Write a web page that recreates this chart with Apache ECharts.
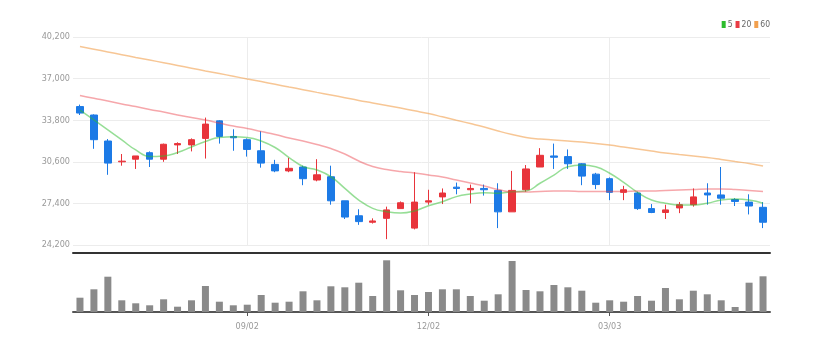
<!DOCTYPE html>
<html>
<head>
<meta charset="utf-8">
<script src="https://cdn.jsdelivr.net/npm/echarts@6/dist/echarts.min.js"></script>
<style>
  html, body { margin: 0; padding: 0; background: #ffffff; }
  #chart { width: 822px; height: 350px; }
</style>
</head>
<body>
<div id="chart"></div>
<script>
// Weekly sessions (Mondays)
const weeks = [
  '06/10','06/17','06/24','07/01','07/08','07/15','07/22','07/29','08/05','08/12',
  '08/19','08/26','09/02','09/09','09/16','09/23','09/30','10/07','10/14','10/21',
  '10/28','11/04','11/11','11/18','11/25','12/02','12/09','12/16','12/23','12/30',
  '01/06','01/13','01/20','01/27','02/03','02/10','02/17','02/24','03/03','03/10',
  '03/17','03/24','03/31','04/07','04/14','04/21','04/28','05/05','05/12','05/19'
];

// [open, close, low, high]
const ohlc = [
  [34850, 34350, 34200, 35000], [34200, 32300, 31600, 34250], [32200, 30500, 29600, 32350],
  [30600, 30650, 30300, 31200], [30800, 31050, 30050, 31050], [31300, 30800, 30200, 31400],
  [30800, 31950, 30600, 32000], [31900, 32000, 31200, 32100], [31900, 32300, 31400, 32400],
  [32400, 33500, 30850, 34000], [33750, 32550, 32000, 33800], [32550, 32450, 31450, 33100],
  [32300, 31550, 31000, 32400], [31450, 30500, 30150, 32950], [30400, 29900, 29800, 30750],
  [29900, 30100, 29800, 30900], [30200, 29300, 28800, 30300], [29200, 29600, 29100, 30800],
  [29450, 27600, 27300, 30300], [27600, 26350, 26200, 27600], [26450, 26000, 25750, 26950],
  [25950, 26050, 25850, 26250], [26250, 26900, 24650, 27150], [27000, 27450, 27000, 27550],
  [25500, 27500, 25400, 29800], [27500, 27600, 27300, 28450], [27900, 28200, 27350, 28550],
  [28650, 28550, 28100, 29000], [28450, 28550, 27400, 28850], [28550, 28450, 28000, 28850],
  [28400, 26750, 25500, 28950], [26750, 28400, 26750, 29900], [28450, 30050, 28300, 30350],
  [30200, 31100, 30200, 31650], [31050, 30950, 30050, 32000], [31000, 30450, 30050, 31550],
  [30450, 29500, 28800, 30500], [29650, 28850, 28500, 29750], [29300, 28250, 27650, 29400],
  [28250, 28450, 27650, 28750], [28200, 27000, 26900, 28300], [27000, 26700, 26650, 27350],
  [26700, 26900, 26200, 27300], [27050, 27300, 26650, 27500], [27300, 27900, 27150, 28550],
  [28200, 28050, 27300, 28950], [28050, 27800, 27300, 30200], [27700, 27550, 27200, 27800],
  [27500, 27200, 26550, 28100], [27100, 25950, 25500, 27500]
];

// Shares traded (thousands)
const volume = [
  143, 227, 353, 117, 87, 67, 127, 53, 117, 260,
  103, 67, 73, 170, 93, 103, 207, 117, 257, 247,
  293, 160, 517, 217, 170, 200, 227, 227, 160, 113,
  177, 510, 220, 207, 270, 247, 213, 93, 117, 103,
  160, 113, 240, 127, 213, 177, 117, 50, 293, 357
];

// Moving averages (5 / 20 / 60 weeks)
const ma5 = [
  34580, 33820, 33050, 32280, 31510, 31010, 31050, 31320, 31740, 32160,
  32470, 32530, 32470, 32200, 31700, 30930, 30240, 29970, 29450, 28560,
  27660, 27020, 26760, 26660, 26820, 27220, 27530, 27920, 28120, 28220,
  28180, 28300, 28350, 28950, 29580, 30220, 30350, 30220, 29720, 29020,
  28250, 27660, 27410, 27280, 27280, 27410, 27660, 27740, 27660, 27410
];
const ma20 = [
  35700, 35480, 35280, 35050, 34850, 34620, 34430, 34200, 34010, 33820,
  33580, 33350, 33160, 32930, 32700, 32430, 32200, 31930, 31620, 31200,
  30660, 30240, 30010, 29850, 29740, 29580, 29430, 29200, 28970, 28740,
  28470, 28280, 28280, 28320, 28350, 28350, 28320, 28320, 28320, 28320,
  28350, 28350, 28390, 28430, 28470, 28510, 28510, 28470, 28390, 28320
];
const ma60 = [
  39470, 39260, 39050, 38840, 38630, 38430, 38220, 38010, 37800, 37590,
  37390, 37180, 36970, 36770, 36560, 36350, 36150, 35940, 35740, 35530,
  35320, 35130, 34930, 34730, 34520, 34310, 34060, 33800, 33540, 33270,
  32970, 32700, 32470, 32350, 32280, 32200, 32120, 32010, 31890, 31740,
  31590, 31430, 31280, 31160, 31050, 30930, 30780, 30620, 30470, 30280
];

const priceMin = 24200;
const priceMax = 40200;
const priceStep = 3200;

const UP = '#e8343b';
const DOWN = '#1c7ae6';
const FONT = '"Liberation Sans Narrow", "DejaVu Sans Condensed", "Liberation Sans", sans-serif';
const labelEvery = (i) => i % 13 === 12;

const chart = echarts.init(document.getElementById('chart'), null, { renderer: 'canvas' });

chart.setOption({
  animation: false,
  backgroundColor: '#ffffff',
  textStyle: { fontFamily: FONT },
  legend: {
    data: ['5', '20', '60'],
    top: 20,
    right: 52,
    padding: 0,
    itemWidth: 4,
    itemHeight: 7,
    itemGap: 3,
    icon: 'rect',
    itemStyle: { opacity: 1 },
    textStyle: { fontSize: 8.5, color: '#666', fontFamily: FONT, padding: [0, 0, 0, -3] }
  },
  grid: [
    { left: 73, right: 52, top: 37, height: 208, outerBoundsMode: 'none', containLabel: false },
    { left: 73, right: 52, top: 253, height: 59, outerBoundsMode: 'none', containLabel: false }
  ],
  xAxis: [
    {
      type: 'category', gridIndex: 0, data: weeks, boundaryGap: true,
      axisLine: { show: false }, axisTick: { show: false }, axisLabel: { show: false },
      splitLine: { show: true, interval: labelEvery, alignWithLabel: true,
        lineStyle: { color: '#ececec', width: 1 } }
    },
    {
      type: 'category', gridIndex: 1, data: weeks, boundaryGap: true, position: 'bottom',
      axisLine: { show: true, lineStyle: { color: '#555', width: 2 } },
      axisTick: { show: true, interval: labelEvery, alignWithLabel: true, length: 4,
        lineStyle: { color: '#555' } },
      axisLabel: { show: true, interval: labelEvery, color: '#999', fontSize: 9,
        fontFamily: FONT, margin: 10 },
      splitLine: { show: false }
    },
    {
      type: 'category', gridIndex: 1, data: weeks, boundaryGap: true, position: 'top',
      axisLine: { show: true, lineStyle: { color: '#333', width: 2 } },
      axisTick: { show: false }, axisLabel: { show: false }, splitLine: { show: false }
    }
  ],
  yAxis: [
    {
      type: 'value', gridIndex: 0, min: priceMin, max: priceMax, interval: priceStep,
      axisLine: { show: false }, axisTick: { show: false },
      axisLabel: { color: '#999', fontSize: 9, fontFamily: FONT, margin: 3,
        formatter: (v) => v.toLocaleString('en-US') },
      splitLine: { show: true, lineStyle: { color: '#ececec', width: 1 } }
    },
    {
      type: 'value', gridIndex: 1, min: 0, max: 590,
      axisLine: { show: false }, axisTick: { show: false }, axisLabel: { show: false },
      splitLine: { show: false }
    }
  ],
  series: [
    {
      name: 'price', type: 'candlestick', xAxisIndex: 0, yAxisIndex: 0,
      data: ohlc, barWidth: 7,
      itemStyle: { color: UP, color0: DOWN, borderColor: UP, borderColor0: DOWN, borderWidth: 1 }
    },
    {
      name: '5', type: 'line', xAxisIndex: 0, yAxisIndex: 0, data: ma5,
      smooth: true, showSymbol: false, symbol: 'none', silent: true,
      itemStyle: { color: '#2dbd2d' },
      lineStyle: { color: '#2dbd2d', width: 1.5, opacity: 0.5 }
    },
    {
      name: '20', type: 'line', xAxisIndex: 0, yAxisIndex: 0, data: ma20,
      smooth: true, showSymbol: false, symbol: 'none', silent: true,
      itemStyle: { color: '#ea3c44' },
      lineStyle: { color: '#ea3c44', width: 1.5, opacity: 0.45 }
    },
    {
      name: '60', type: 'line', xAxisIndex: 0, yAxisIndex: 0, data: ma60,
      smooth: true, showSymbol: false, symbol: 'none', silent: true,
      itemStyle: { color: '#f2a04e' },
      lineStyle: { color: '#f2a04e', width: 1.5, opacity: 0.6 }
    },
    {
      name: 'volume', type: 'bar', xAxisIndex: 1, yAxisIndex: 1, data: volume,
      barWidth: 7, itemStyle: { color: '#8a8a8a' }
    }
  ]
});
</script>
</body>
</html>
